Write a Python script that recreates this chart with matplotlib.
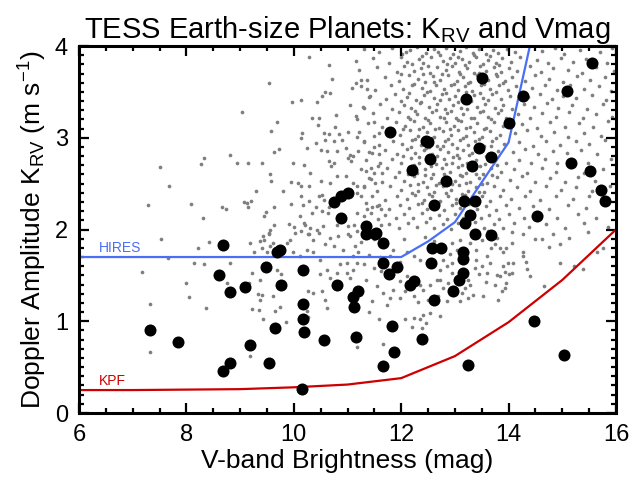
import numpy as np
import matplotlib
matplotlib.use('Agg')
from matplotlib import pyplot as plt
from matplotlib.ticker import MultipleLocator

# fonts: Helvetica-like everywhere, also inside the math subscripts
plt.rcParams['font.family'] = 'Liberation Sans'
plt.rcParams['mathtext.fontset'] = 'custom'
plt.rcParams['mathtext.rm'] = 'Liberation Sans'
plt.rcParams['mathtext.it'] = 'Liberation Sans:italic'

# ---- data ----
# detection limits
hires_v = [6, 8, 10, 12, 12.5, 13, 14, 15, 16]
hires_k = [1.70, 1.70, 1.70, 1.70, 1.87, 2.08, 2.95, 5.6, 8.2]
kpf_v = [6, 7, 8, 9, 10, 11, 12, 13, 14, 15, 16]
kpf_k = [0.25, 0.25, 0.255, 0.26, 0.28, 0.31, 0.38, 0.62, 0.99, 1.45, 2.0]

# TESS earth-size planets (big black dots)
planet_v = [8.69, 7.32, 7.85, 8.61, 8.82, 9.09, 8.82, 8.69, 9.18, 9.54, 9.65, 9.48, 9.69, 9.74,
            9.77, 10.17, 10.17, 10.18, 10.19, 10.16, 10.56, 10.80, 11.11, 11.12, 11.16, 11.19,
            10.75, 10.87, 11.00, 10.88, 11.34, 11.52, 11.34,
            15.55, 13.51, 13.21, 14.27, 15.08, 14.01, 11.79, 12.46, 12.50, 13.44, 13.67, 12.54,
            13.31, 12.20, 15.16, 15.52, 12.83, 15.72, 15.80, 13.17, 13.37, 12.61, 13.29, 14.52,
            13.19, 11.53, 11.67, 13.37, 13.67, 12.57, 12.74, 13.16, 13.16, 11.67, 11.92, 12.55,
            11.78, 13.16,
            13.08, 12.23, 12.16, 12.96, 12.61, 11.82, 12.38, 11.87, 11.66, 13.24, 14.48, 15.03]
planet_k = [1.83, 0.90, 0.77, 1.50, 1.32, 1.37, 0.54, 0.46, 0.74, 0.55, 0.93, 1.59, 1.75, 1.78,
            1.39, 1.56, 1.19, 1.02, 0.88, 0.26, 0.80, 1.39, 1.26, 1.15, 0.83, 1.33,
            2.30, 2.37, 2.40, 2.13, 2.04, 1.95, 1.95,
            3.81, 3.65, 3.42, 3.46, 3.51, 3.16, 3.06, 2.96, 2.95, 2.89, 2.79, 2.77,
            2.69, 2.65, 2.72, 2.64, 2.53, 2.43, 2.31, 2.31, 2.31, 2.27, 2.16, 2.15,
            2.07, 1.96, 1.85, 1.95, 1.94, 1.80, 1.80, 1.75, 1.68, 1.63, 1.59, 1.63,
            1.51, 1.53,
            1.45, 1.44, 1.39, 1.33, 1.23, 0.95, 0.81, 0.66, 0.51, 0.52, 1.00, 0.63]

# simulated yield (small grey dots), sparse left side
field_left = [
    (10.28, 3.88), (10.66, 3.79), (10.71, 3.64), (9.54, 3.60), (11.15, 3.60), (11.25, 3.63),
    (11.09, 3.54), (11.37, 3.53), (10.59, 3.50), (10.67, 3.49), (10.53, 3.46), (9.97, 3.39),
    (10.13, 3.41), (10.43, 3.39), (11.40, 3.44), (11.05, 3.36), (11.31, 3.32), (9.03, 3.28),
    (10.79, 3.25), (10.33, 3.22), (10.47, 3.22), (9.69, 3.17), (11.18, 3.20), (11.49, 3.17),
    (9.57, 3.07), (10.45, 3.14), (10.76, 3.12), (10.16, 3.05), (10.14, 3.00), (10.56, 3.05),
    (10.66, 3.04), (10.84, 3.04), (11.00, 3.06), (11.59, 3.05), (10.41, 2.94), (10.59, 2.98),
    (10.74, 2.97), (10.89, 2.98), (11.18, 3.01), (11.31, 2.95), (11.49, 2.90), (10.24, 2.89),
    (9.63, 2.84), (9.72, 2.88), (10.51, 2.87), (10.62, 2.86), (10.81, 2.86), (10.97, 2.89),
    (11.05, 2.81), (11.40, 2.84), (11.59, 2.82), (8.33, 2.78), (8.28, 2.71), (8.82, 2.81),
    (8.94, 2.73), (9.15, 2.73), (9.40, 2.72), (9.99, 2.72), (10.19, 2.70), (10.66, 2.75),
    (10.69, 2.69), (10.74, 2.72), (11.00, 2.78), (11.11, 2.80), (11.07, 2.75), (7.50, 2.68),
    (7.68, 2.47), (7.28, 2.27), (8.08, 2.28), (8.31, 2.13), (8.67, 2.25), (8.73, 2.22),
    (9.07, 2.30), (9.13, 2.29), (9.20, 2.31), (9.15, 2.24), (9.29, 2.42), (9.55, 2.60),
    (9.57, 2.53), (9.48, 2.19), (9.45, 2.15), (9.63, 2.24), (9.79, 2.42), (9.94, 2.52),
    (10.07, 2.51), (10.13, 2.47), (10.28, 2.47), (10.31, 2.62), (10.50, 2.53), (10.67, 2.51),
    (10.81, 2.58), (10.97, 2.58), (11.10, 2.51), (11.18, 2.47), (9.94, 2.28), (10.18, 2.27),
    (10.14, 2.36), (10.47, 2.37), (10.53, 2.38), (10.28, 2.31), (10.41, 2.25), (10.56, 2.32),
    (10.66, 2.25), (10.34, 2.18), (10.53, 2.20), (10.64, 2.18), (10.12, 2.15), (10.19, 2.07),
    (10.31, 2.02), (10.47, 1.96), (10.28, 1.95), (10.00, 2.03), (10.13, 1.98), (9.91, 2.06),
    (9.63, 2.05), (9.56, 2.00), (9.53, 1.96), (9.43, 1.93), (7.52, 1.90), (11.06, 2.38),
    (11.18, 2.40), (11.25, 2.36), (11.34, 2.29), (11.37, 2.22), (11.46, 2.25), (11.59, 2.27),
    (11.62, 2.22), (11.18, 2.18), (11.31, 2.15), (11.43, 2.18), (11.56, 2.11), (11.62, 2.05),
    (10.81, 2.05), (11.00, 2.04), (11.12, 2.05), (11.18, 1.98), (11.00, 1.95), (11.31, 2.47),
    (11.43, 2.55), (11.52, 2.51), (11.56, 2.69), (11.65, 2.62), (11.34, 2.64), (11.43, 2.67),
]
# lower-left part
field_low = [
    (7.66, 1.69), (7.17, 1.54), (7.32, 1.19), (7.32, 0.66), (7.99, 1.42), (8.05, 1.26),
    (8.15, 1.63), (8.33, 1.62), (8.22, 1.80), (8.43, 1.86), (8.36, 1.14), (8.81, 1.64),
    (8.76, 1.42), (9.18, 1.85), (9.26, 1.75), (9.17, 1.42), (9.22, 1.53), (9.37, 1.45),
    (9.43, 1.58), (9.22, 1.13), (9.35, 1.12), (9.42, 1.02), (9.18, 0.62), (9.33, 1.30),
    (9.41, 1.29), (9.37, 1.88), (9.45, 1.89), (9.54, 1.95), (9.40, 1.80), (9.50, 1.75),
    (9.56, 1.82), (9.62, 1.85), (9.61, 1.28), (9.68, 1.56), (9.87, 1.85), (9.85, 0.99),
    (9.77, 1.51), (9.93, 1.89), (10.02, 1.96), (9.99, 1.76), (10.12, 1.71), (10.24, 1.78),
    (10.36, 1.89), (10.36, 1.75), (10.49, 1.67), (10.21, 2.05), (10.27, 1.95), (10.43, 2.00),
    (10.55, 2.04), (10.58, 1.84), (10.67, 1.91), (10.74, 1.82), (10.83, 1.93), (10.92, 1.78),
    (11.05, 1.93), (11.14, 1.82), (11.11, 1.71), (10.99, 1.64), (10.27, 1.33), (10.36, 1.31),
    (10.52, 1.33), (10.24, 1.11), (10.27, 1.05), (10.61, 1.14), (10.58, 1.23), (10.49, 1.51),
    (10.61, 1.56), (10.67, 1.47), (10.80, 1.53), (10.86, 1.62), (10.99, 1.53), (11.11, 1.56),
    (11.05, 1.47), (11.17, 0.72), (11.20, 1.75), (11.17, 1.64), (9.65, 1.11), (9.74, 1.16),
    (9.37, 1.23), (11.25, 1.86), (11.40, 1.72), (11.50, 1.58), (11.35, 1.45), (11.55, 1.38),
    (11.45, 1.22), (11.30, 1.62), (11.60, 1.70), (11.50, 1.90), (11.62, 1.55), (11.40, 1.10),
    (11.58, 1.02),
]
# lower-right part, below the HIRES limit
field_right = [
    (14.06, 1.97), (14.26, 1.95), (14.49, 1.90), (14.63, 1.90), (14.76, 1.81), (14.96, 1.84),
    (14.06, 1.85), (13.96, 1.80), (13.90, 1.75), (13.84, 1.80), (13.75, 1.84), (14.26, 1.76),
    (14.27, 1.71), (14.32, 1.65), (14.08, 1.64), (13.98, 1.64), (13.90, 1.60), (14.34, 1.57),
    (14.40, 1.49), (14.96, 1.63), (15.65, 1.75), (15.76, 1.80), (15.38, 1.57), (15.22, 1.60),
    (14.65, 1.38), (14.06, 1.53), (14.00, 1.51), (13.93, 1.54), (13.84, 1.49), (13.78, 1.50),
    (13.75, 1.40), (13.96, 1.42), (13.93, 1.36), (13.87, 1.33), (13.81, 1.23), (13.59, 1.71),
    (13.65, 1.64), (13.50, 1.60), (13.40, 1.67), (13.37, 1.58), (13.44, 1.51), (13.25, 1.45),
    (13.28, 1.40), (13.19, 1.36), (13.13, 1.31), (13.25, 1.25), (13.59, 1.53), (13.58, 1.43),
    (13.53, 1.27), (13.34, 1.29), (13.09, 1.22), (12.85, 1.22), (12.69, 1.27), (12.78, 1.36),
    (12.88, 1.42), (12.94, 1.53), (12.72, 1.45), (12.72, 1.06), (12.54, 1.09), (12.41, 1.07),
    (12.35, 1.02), (12.23, 1.03), (12.07, 1.02), (12.47, 0.98), (12.38, 0.93), (12.21, 0.94),
    (11.67, 0.75), (12.50, 1.23), (12.41, 1.34), (12.35, 1.40), (12.28, 1.45), (12.10, 1.49),
    (11.98, 1.44), (11.85, 1.34), (11.79, 1.25), (11.73, 1.18), (11.67, 1.31), (11.98, 1.25),
    (12.07, 1.33), (12.23, 1.27), (12.32, 1.21), (12.54, 1.40), (12.66, 1.45), (12.72, 1.56),
    (12.85, 1.60), (12.94, 1.64), (12.78, 1.67), (13.22, 1.75), (13.28, 1.85), (13.40, 1.78),
    (13.50, 1.89), (13.78, 1.91), (13.68, 1.80), (12.23, 1.71), (12.35, 1.67), (12.10, 1.75),
    (11.98, 1.65), (11.79, 1.71), (11.85, 1.78), (11.73, 1.53), (13.03, 1.78), (13.09, 1.89),
    (12.94, 1.85), (12.91, 1.73), (12.45, 1.92), (12.62, 1.88), (12.05, 1.90), (13.62, 1.98),
    (14.82, 1.95), (15.12, 1.91), (15.48, 1.97),
]
# dense cloud
field_core = [
    (11.31, 3.97), (11.58, 3.93), (11.83, 3.98), (12.02, 3.91), (12.17, 3.96), (12.29, 3.99),
    (12.47, 3.92), (12.61, 3.97), (12.69, 3.93), (12.84, 3.98), (12.97, 3.91), (13.09, 3.95),
    (13.21, 3.99), (13.33, 3.92), (13.44, 3.97), (13.57, 3.91), (13.71, 3.96), (13.80, 3.92),
    (13.97, 3.97), (14.12, 3.93), (14.63, 3.95), (14.86, 3.98), (15.04, 3.91), (15.33, 3.96),
    (15.71, 3.93), (15.93, 3.98),
    (11.16, 3.84), (11.47, 3.87), (11.77, 3.82), (11.99, 3.88), (12.10, 3.83), (12.33, 3.86),
    (12.41, 3.81), (12.56, 3.88), (12.77, 3.84), (12.90, 3.87), (13.01, 3.81), (13.14, 3.86),
    (13.27, 3.83), (13.39, 3.88), (13.62, 3.85), (13.76, 3.81), (13.88, 3.87), (14.04, 3.83),
    (14.21, 3.88), (14.52, 3.85), (14.74, 3.81), (14.97, 3.87), (15.19, 3.83), (15.44, 3.86),
    (15.84, 3.82),
    (11.22, 3.74), (11.55, 3.77), (11.92, 3.72), (12.06, 3.78), (12.24, 3.73), (12.37, 3.76),
    (12.53, 3.71), (12.66, 3.77), (12.83, 3.74), (12.95, 3.78), (13.08, 3.72), (13.23, 3.76),
    (13.35, 3.71), (13.47, 3.78), (13.58, 3.73), (13.73, 3.77), (13.86, 3.72), (14.01, 3.76),
    (14.16, 3.73), (14.39, 3.78), (14.61, 3.72), (14.83, 3.76), (15.11, 3.74), (15.36, 3.71),
    (15.63, 3.77), (15.96, 3.73),
    (11.36, 3.63), (11.69, 3.66), (11.96, 3.62), (12.14, 3.68), (12.31, 3.64), (12.45, 3.61),
    (12.59, 3.67), (12.73, 3.63), (12.87, 3.68), (13.03, 3.62), (13.16, 3.66), (13.29, 3.61),
    (13.41, 3.68), (13.61, 3.63), (13.79, 3.67), (13.93, 3.62), (14.07, 3.66), (14.31, 3.62),
    (14.49, 3.68), (14.76, 3.64), (15.01, 3.61), (15.27, 3.67), (15.51, 3.63), (15.79, 3.66),
    (11.26, 3.56), (11.51, 3.52), (11.81, 3.57), (12.03, 3.53), (12.21, 3.58), (12.38, 3.54),
    (12.54, 3.51), (12.64, 3.57), (12.79, 3.53), (12.92, 3.58), (13.06, 3.52), (13.19, 3.56),
    (13.32, 3.51), (13.49, 3.57), (13.66, 3.53), (13.82, 3.58), (13.98, 3.52), (14.13, 3.56),
    (14.43, 3.54), (14.68, 3.58), (14.91, 3.52), (15.15, 3.57), (15.41, 3.53), (15.69, 3.56),
    (15.91, 3.51),
    (11.41, 3.46), (11.71, 3.42), (11.88, 3.48), (12.11, 3.44), (12.27, 3.41), (12.43, 3.47),
    (12.61, 3.43), (12.76, 3.48), (12.89, 3.42), (13.01, 3.46), (13.14, 3.41), (13.36, 3.47),
    (13.52, 3.43), (13.69, 3.48), (13.85, 3.42), (14.03, 3.46), (14.36, 3.44), (14.58, 3.48),
    (14.81, 3.42), (15.02, 3.46), (15.26, 3.43), (15.56, 3.47), (15.82, 3.41),
    (11.29, 3.33), (11.61, 3.37), (11.82, 3.31), (12.05, 3.36), (12.19, 3.32), (12.35, 3.38),
    (12.51, 3.33), (12.67, 3.37), (12.81, 3.31), (12.96, 3.36), (13.11, 3.32), (13.25, 3.38),
    (13.41, 3.33), (13.56, 3.37), (13.74, 3.32), (13.89, 3.36), (14.06, 3.31), (14.28, 3.37),
    (14.48, 3.33), (14.71, 3.38), (14.92, 3.32), (15.18, 3.36), (15.46, 3.31), (15.76, 3.37),
    (11.15, 3.24), (11.48, 3.27), (11.73, 3.22), (11.95, 3.28), (12.12, 3.23), (12.30, 3.26),
    (12.44, 3.21), (12.58, 3.28), (12.72, 3.23), (12.85, 3.27), (13.02, 3.22), (13.16, 3.26),
    (13.30, 3.21), (13.46, 3.28), (13.62, 3.23), (13.80, 3.27), (13.95, 3.22), (14.18, 3.26),
    (14.40, 3.22), (14.62, 3.27), (14.88, 3.23), (15.12, 3.28), (15.38, 3.22), (15.62, 3.26),
    (15.92, 3.23),
    (11.38, 3.16), (11.65, 3.12), (11.90, 3.17), (12.08, 3.13), (12.24, 3.18), (12.40, 3.12),
    (12.54, 3.16), (12.70, 3.11), (12.84, 3.17), (12.98, 3.13), (13.12, 3.18), (13.28, 3.12),
    (13.42, 3.16), (13.58, 3.11), (13.72, 3.17), (13.90, 3.13), (14.25, 3.15), (14.52, 3.11),
    (14.78, 3.17), (15.05, 3.12), (15.32, 3.16), (15.58, 3.12), (15.85, 3.18),
    (11.22, 3.06), (11.50, 3.02), (11.76, 3.07), (11.98, 3.03), (12.16, 3.08), (12.32, 3.02),
    (12.48, 3.06), (12.62, 3.01), (12.78, 3.07), (12.92, 3.03), (13.06, 3.08), (13.20, 3.02),
    (13.35, 3.06), (13.50, 3.01), (13.66, 3.07), (13.84, 3.03), (14.12, 3.05), (14.35, 3.08),
    (14.60, 3.02), (14.85, 3.06), (15.10, 3.01), (15.40, 3.05), (15.72, 3.02),
    (11.30, 2.96), (11.58, 2.92), (11.84, 2.97), (12.02, 2.93), (12.20, 2.98), (12.36, 2.92),
    (12.52, 2.90), (12.66, 2.91), (12.82, 2.97), (12.95, 2.93), (13.10, 2.98), (13.24, 2.92),
    (13.38, 2.96), (13.54, 2.91), (13.70, 2.97), (13.92, 2.93), (14.20, 2.95), (14.45, 2.91),
    (14.70, 2.97), (14.95, 2.92), (15.25, 2.96), (15.50, 2.93), (15.80, 2.98),
    (11.20, 2.86), (11.45, 2.83), (11.70, 2.87), (11.92, 2.82), (12.10, 2.88), (12.26, 2.83),
    (12.42, 2.87), (12.58, 2.82), (12.72, 2.88), (12.88, 2.84), (13.03, 2.81), (13.16, 2.87),
    (13.32, 2.83), (13.48, 2.88), (13.62, 2.82), (13.80, 2.86), (14.08, 2.84), (14.30, 2.88),
    (14.55, 2.82), (14.82, 2.86), (15.08, 2.83), (15.35, 2.87), (15.65, 2.82),
    (11.35, 2.76), (11.60, 2.72), (11.82, 2.77), (12.00, 2.73), (12.18, 2.78), (12.34, 2.72),
    (12.48, 2.76), (12.64, 2.71), (12.80, 2.77), (12.94, 2.73), (13.08, 2.78), (13.22, 2.72),
    (13.40, 2.76), (13.56, 2.71), (13.74, 2.77), (13.95, 2.73), (14.20, 2.76), (14.42, 2.72),
    (14.68, 2.77), (14.90, 2.73), (15.20, 2.76), (15.48, 2.72), (15.90, 2.77),
    (11.25, 2.66), (11.50, 2.62), (11.74, 2.67), (11.96, 2.63), (12.14, 2.68), (12.30, 2.62),
    (12.45, 2.66), (12.60, 2.61), (12.76, 2.67), (12.90, 2.63), (13.05, 2.68), (13.20, 2.62),
    (13.36, 2.66), (13.52, 2.61), (13.68, 2.67), (13.86, 2.63), (14.10, 2.66), (14.35, 2.62),
    (14.62, 2.67), (14.88, 2.63), (15.15, 2.68), (15.40, 2.62), (15.75, 2.66),
    (11.40, 2.56), (11.64, 2.52), (11.88, 2.57), (12.06, 2.53), (12.24, 2.58), (12.40, 2.52),
    (12.55, 2.56), (12.70, 2.51), (12.86, 2.57), (13.00, 2.53), (13.14, 2.58), (13.28, 2.52),
    (13.44, 2.56), (13.60, 2.51), (13.78, 2.57), (14.02, 2.54), (14.25, 2.58), (14.50, 2.52),
    (14.78, 2.56), (15.05, 2.52), (15.30, 2.57), (15.60, 2.53),
    (11.30, 2.46), (11.55, 2.42), (11.80, 2.47), (12.00, 2.43), (12.16, 2.48), (12.32, 2.42),
    (12.48, 2.46), (12.62, 2.41), (12.78, 2.47), (12.92, 2.43), (13.08, 2.48), (13.24, 2.42),
    (13.40, 2.46), (13.55, 2.41), (13.72, 2.47), (13.90, 2.43), (14.15, 2.46), (14.40, 2.42),
    (14.70, 2.47), (14.98, 2.43), (15.25, 2.46), (15.55, 2.42), (15.88, 2.47),
    (11.45, 2.36), (11.70, 2.32), (11.92, 2.37), (12.10, 2.33), (12.26, 2.38), (12.42, 2.32),
    (12.58, 2.36), (12.72, 2.31), (12.88, 2.37), (13.02, 2.33), (13.18, 2.38), (13.34, 2.32),
    (13.50, 2.36), (13.66, 2.31), (13.84, 2.37), (14.05, 2.33), (14.30, 2.36), (14.58, 2.32),
    (14.88, 2.37), (15.20, 2.33), (15.50, 2.36),
    (11.55, 2.26), (11.78, 2.22), (11.98, 2.27), (12.15, 2.23), (12.32, 2.28), (12.48, 2.22),
    (12.64, 2.26), (12.80, 2.21), (12.95, 2.27), (13.10, 2.23), (13.26, 2.28), (13.42, 2.22),
    (13.58, 2.26), (13.76, 2.21), (13.95, 2.27), (14.20, 2.23), (14.45, 2.26), (14.75, 2.22),
    (15.10, 2.27), (15.45, 2.23),
    (11.70, 2.16), (11.90, 2.12), (12.06, 2.17), (12.22, 2.13), (12.38, 2.18), (12.54, 2.12),
    (12.70, 2.16), (12.86, 2.11), (13.00, 2.17), (13.16, 2.13), (13.32, 2.18), (13.48, 2.12),
    (13.64, 2.16), (13.82, 2.11), (14.00, 2.17), (14.28, 2.13), (14.60, 2.16), (14.90, 2.12),
    (15.30, 2.17), (15.62, 2.13),
    (11.78, 2.06), (11.96, 2.02), (12.12, 2.07), (12.30, 2.03), (12.46, 2.08), (12.62, 2.02),
    (12.78, 2.06), (12.92, 2.01), (13.06, 2.07), (13.22, 2.03), (13.38, 2.08), (13.55, 2.02),
    (13.72, 2.06), (13.90, 2.02), (14.10, 2.07), (14.38, 2.03), (14.70, 2.06), (15.05, 2.02),
    (15.40, 2.07), (15.85, 2.03),
    # second, offset layer in the thickest part
    (12.09, 3.93), (12.38, 3.89), (12.73, 3.90), (13.05, 3.88), (13.36, 3.90), (13.66, 3.89),
    (12.21, 3.80), (12.50, 3.78), (12.86, 3.80), (13.19, 3.79), (13.52, 3.80), (13.83, 3.79),
    (12.00, 3.70), (12.40, 3.69), (12.76, 3.70), (13.10, 3.69), (13.45, 3.71), (13.77, 3.69),
    (12.24, 3.59), (12.62, 3.61), (12.98, 3.59), (13.25, 3.60), (13.55, 3.59), (13.90, 3.60),
    (12.14, 3.49), (12.48, 3.50), (12.83, 3.49), (13.20, 3.50), (13.47, 3.49), (13.77, 3.50),
    (12.00, 3.40), (12.37, 3.39), (12.72, 3.41), (13.06, 3.39), (13.30, 3.40), (13.62, 3.41),
    (12.26, 3.29), (12.64, 3.30), (12.92, 3.29), (13.22, 3.31), (13.52, 3.29), (13.86, 3.30),
    (12.16, 3.20), (12.49, 3.19), (12.79, 3.21), (13.06, 3.19), (13.36, 3.21), (13.68, 3.20),
    (12.03, 3.10), (12.33, 3.09), (12.63, 3.10), (12.91, 3.09), (13.21, 3.11), (13.55, 3.10),
    (12.26, 2.99), (12.58, 3.00), (12.87, 2.99), (13.16, 3.00), (13.44, 2.99), (13.76, 3.00),
    (12.18, 2.90), (12.47, 2.89), (12.77, 2.91), (13.04, 2.89), (13.38, 2.90), (13.68, 2.91),
    (12.04, 2.80), (12.34, 2.79), (12.66, 2.80), (12.97, 2.79), (13.26, 2.81), (13.58, 2.80),
    (12.23, 2.70), (12.55, 2.69), (12.84, 2.71), (13.13, 2.70), (13.46, 2.69), (13.78, 2.70),
    (12.12, 2.60), (12.45, 2.59), (12.80, 2.60), (13.10, 2.59), (13.40, 2.61), (13.70, 2.59),
    (12.32, 2.50), (12.64, 2.49), (12.95, 2.50), (13.20, 2.51), (13.50, 2.50),
    (12.20, 2.40), (12.52, 2.39), (12.84, 2.40), (13.14, 2.39), (13.45, 2.41),
    (12.38, 2.29), (12.70, 2.30), (13.02, 2.29), (13.34, 2.30),
]

field = np.array(field_left + field_low + field_right + field_core)

blue = '#4a6ef5'
red = '#cc0000'

fig = plt.figure(figsize=(6.31, 4.8), dpi=100)
ax = fig.add_axes([79/631, 67/480, 537/631, 367/480])

ax.scatter(field[:, 0], field[:, 1], s=7, c='#7f7f7f', linewidths=0, zorder=1)
ax.plot(hires_v, hires_k, color=blue, lw=1.6, zorder=2)
ax.plot(kpf_v, kpf_k, color=red, lw=1.6, zorder=2)
ax.scatter(planet_v, planet_k, s=75, c='k', linewidths=0, zorder=3)

ax.text(6.37, 1.75, 'HIRES', color=blue, fontsize=10)
ax.text(6.37, 0.31, 'KPF', color=red, fontsize=10)

ax.set_xlim(6, 16)
ax.set_ylim(0, 4)
ax.xaxis.set_major_locator(MultipleLocator(2))
ax.xaxis.set_minor_locator(MultipleLocator(0.5))
ax.yaxis.set_major_locator(MultipleLocator(1))
ax.yaxis.set_minor_locator(MultipleLocator(0.1))
ax.tick_params(which='both', direction='in', top=True, right=True, width=1.6)
ax.tick_params(which='major', length=7, labelsize=17, pad=8)
ax.tick_params(which='minor', length=3.5)
for sp in ax.spines.values():
    sp.set_linewidth(2.2)

ax.set_xlabel('V-band Brightness (mag)', fontsize=19, labelpad=2)
ax.set_ylabel(r'Doppler Amplitude K$_{\mathrm{RV}}$ (m s$^{-1}$)', fontsize=19, labelpad=4)
ax.set_title(r'TESS Earth-size Planets: K$_{\mathrm{RV}}$ and Vmag', fontsize=21, pad=5)

fig.savefig('out.png', dpi=100)
